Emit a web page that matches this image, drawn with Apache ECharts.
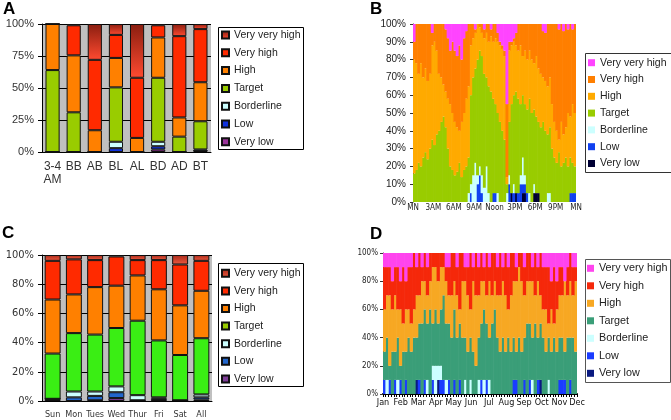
<!DOCTYPE html>
<html><head><meta charset="utf-8">
<script src="https://cdn.jsdelivr.net/npm/echarts@6/dist/echarts.min.js"></script>
<style>
html,body{margin:0;padding:0;background:#fff;}
.c{position:absolute;left:0;top:0;width:671px;height:420px;}
</style></head><body>
<div id="pa" class="c"></div><div id="pb" class="c"></div><div id="pc" class="c"></div><div id="pd" class="c"></div>
<script>
// stacking order (bottom -> top)
const levels = ['Very low','Low','Borderline','Target','High','Very high','Very very high'];

// ---------- Panel A ----------
const aCategories = ['3-4\nAM','BB','AB','BL','AL','BD','AD','BT'];
const aVeryLow      = [0,0,0,0,0,2,0,1];
const aLow          = [0,0,0,3,0,2.5,0,0];
const aBorderline   = [0,0,0,5,0,3.5,0,1];
const aTarget       = [64,31,0,42.5,0,50,12,22];
const aHigh         = [36,44.5,17,23,11,31.5,15,30.5];
const aVeryHigh     = [0,23.5,55,18,47,9.5,63.5,41.5];
const aVeryVeryHigh = [0,1,28,8.5,42,1,9.5,4];

// ---------- Panel B (20-minute slots over 24 h) ----------
const bXTicks = ['MN','3AM','6AM','9AM','Noon','3PM','6PM','9PM','MN'];
const bVeryLow = [0,0,0,0,0,0,0,0,0,0,0,0, 0,0,0,0,0,0,0,0,0,0,0,0, 0,0,0,0,0,0,0,0,0,0,0,0, 0,0,0,0,0,0,0,5,0,5,0,0, 5,5,0,0,0,5,5,5,0,0,0,0, 0,0,0,0,0,0,0,0,0,0,0,0];
const bLow = [0,0,0,0,0,0,0,0,0,0,0,0, 0,0,0,0,0,0,0,0,0,0,0,0, 0,5,0,0,10,15,5,0,0,0,0,5, 5,0,0,0,0,0,10,0,5,0,5,10, 5,5,5,0,0,0,0,0,0,0,0,0, 0,0,0,0,0,0,0,0,0,5,5,5];
const bBorderline = [0,0,0,0,0,0,0,0,0,0,0,0, 0,0,0,0,0,0,0,0,0,0,0,0, 5,5,15,22,5,5,10,8,20,5,0,0, 0,5,0,0,0,5,5,0,5,0,0,5, 15,5,0,5,0,5,0,0,0,0,0,5, 5,0,0,0,0,0,0,0,0,0,0,0];
const bTarget = [16,18,22,20,25,28,24,30,35,32,38,40, 45,48,42,30,20,18,15,17,22,14,18,20, 20,50,55,53,65,65,67,64,50,60,62,53, 50,45,45,40,35,5,30,50,50,57,53,40, 35,40,47,53,50,42,43,40,42,45,40,33, 37,30,25,22,28,20,22,25,20,20,17,15];
const bHigh = [64,60,50,58,45,47,44,42,53,58,47,32, 25,18,20,28,35,32,30,25,18,31,32,38, 40,28,22,20,20,13,13,20,25,25,31,32, 37,40,43,46,47,4,40,33,30,26,27,33, 22,30,28,27,30,26,34,30,30,25,28,27, 28,25,20,18,7,25,16,17,30,23,33,30];
const bVeryHigh = [10,22,28,22,30,25,32,28,7,10,15,28, 30,34,35,34,30,40,40,40,48,35,42,38, 35,12,8,2,0,2,5,5,5,10,4,10, 8,5,2,2,3,41,5,2,2,7,15,12, 18,15,20,15,20,22,18,25,28,26,27,35, 30,45,55,60,62,55,58,58,47,52,42,50];
const bVeryVeryHigh = [10,0,0,0,0,0,0,0,5,0,0,0, 0,0,3,8,15,10,15,18,12,20,8,4, 0,0,0,3,0,0,0,3,0,0,3,0, 0,5,10,12,15,45,10,10,8,5,0,0, 0,0,0,0,0,0,0,0,0,4,5,0, 0,0,0,0,3,0,4,0,3,0,3,0];

// ---------- Panel C ----------
const cCategories = ['Sun','Mon','Tues','Wed','Thur','Fri','Sat','All'];
const cVeryLow      = [1,0,0.5,2,0.5,0.5,0.5,1];
const cLow          = [0.5,2.5,3,4,0,1,0,1.5];
const cBorderline   = [0,4,3,4,3.5,1,0,2];
const cTarget       = [31,40,39,40,51,39,31,38.5];
const cHigh         = [37,26.5,32.5,29,31,35,34,32.5];
const cVeryHigh     = [26.5,24,18.5,20,10.5,20,28,20.5];
const cVeryVeryHigh = [4,3,3.5,1,3.5,3.5,6.5,4];

// ---------- Panel D (5-day slots over a year) ----------
const dXTicks = ['Jan','Feb','Mar','Apr','May','Jun','Jul','Aug','Sep','Oct','Nov','Dec'];
const dVeryLow = [0,0,0,0,0,0, 0,0,0,0,0,0, 10,0,0,0,0,0, 0,0,10,0,0,0, 0,0,0,0,0,0, 0,0,0,0,0,0, 0,0,0,0,0,0, 0,0,0,0,0,0, 0,0,0,0,0,0, 0,0,0,0,10,0, 0,0,0,0,0,0, 0,0,0,0,0,0];
const dLow = [10,0,10,0,10,0, 10,0,10,0,0,0, 0,10,0,10,0,0, 10,0,0,10,10,0, 10,0,10,0,10,0, 0,0,0,0,0,0, 10,0,10,0,0,0, 0,0,0,0,0,0, 10,10,0,0,10,0, 10,0,0,10,0,0, 0,0,0,0,0,10, 10,10,0,10,0,0];
const dBorderline = [0,10,0,0,0,10, 0,0,0,0,0,0, 0,0,0,0,10,0, 10,20,10,10,0,10, 0,0,0,0,0,0, 10,0,10,0,0,10, 0,10,0,10,0,0, 0,0,0,0,0,0, 0,0,0,0,0,0, 0,10,0,0,0,0, 0,10,0,0,0,0, 0,0,0,0,0,0];
const dTarget = [20,30,10,30,20,30, 10,30,20,40,30,40, 30,40,50,50,40,60, 30,40,30,40,60,40, 40,40,50,40,40,40, 30,30,30,30,20,30, 40,50,40,30,50,60, 40,30,40,30,40,30, 30,20,40,30,30,50, 40,30,50,30,40,40, 30,30,30,40,30,30, 30,20,40,30,40,30];
const dHigh = [30,30,50,30,40,20, 40,20,30,20,20,20, 30,20,30,20,20,20, 40,30,30,30,20,30, 20,30,20,30,10,40, 40,40,20,50,50,30, 30,20,20,40,20,20, 30,40,40,40,20,40, 40,50,50,50,30,30, 30,40,20,40,20,20, 30,10,30,10,30,30, 30,50,30,40,30,50];
const dVeryHigh = [30,20,20,20,20,30, 20,40,20,30,40,40, 20,30,10,20,20,20, 10,10,20,10,10,10, 20,30,20,20,40,20, 10,20,40,10,30,20, 20,10,30,10,30,20, 20,30,10,30,30,30, 20,10,10,20,20,20, 20,10,30,10,30,30, 30,40,20,40,20,20, 20,0,20,20,20,10];
const dVeryVeryHigh = [10,10,10,20,10,10, 20,10,20,10,10,0, 10,0,10,0,10,0, 0,0,0,0,0,10, 10,0,0,10,0,0, 10,10,0,10,0,10, 0,10,0,10,0,0, 10,0,10,0,10,0, 0,10,0,0,10,0, 0,10,0,10,0,10, 10,10,20,10,20,10, 10,20,10,0,10,10];

// ---------- styling ----------
const FONT = 'Arial, "Liberation Sans", sans-serif';
const NARROW = '"Liberation Sans Narrow", "DejaVu Sans Condensed", "Arial Narrow", sans-serif';
const legendOrder = levels.slice().reverse();
const grad = (c1, c2) => ({type:'linear', x:0, y:0, x2:0, y2:1, colorStops:[{offset:0,color:c1},{offset:1,color:c2}]});

const aColors = ['#993399','#1133dd','#ccffff','#99cc00','#ff8000','#ff2a00', grad('#8a1e10','#ff4a30')];
const bColors = ['#000033','#1040f0','#ccffff','#99cc00','#ffaa00','#ff7f00','#ff44ff'];
const cColors = ['#7f3f98','#2266cc','#ccffff','#3aee14','#ff8000','#ff2a00', grad('#a82a1a','#f05a40')];
const dColors = ['#0a1a80','#1a3cff','#ccffff','#3a9e78','#f7a823','#f5280a','#ff44ee'];

function series(arrays, colors, bordered, gap, width) {
  return levels.map((name, i) => {
    const s = {
      name: name, type: 'bar', stack: 's', data: arrays[i],
      itemStyle: bordered ? {color: colors[i], borderColor: '#111', borderWidth: 1}
                          : {color: colors[i], borderWidth: 0}
    };
    if (width) s.barWidth = width; else s.barCategoryGap = gap;
    return s;
  });
}

function legend(left, top, gap, size, override) {
  return {
    orient: 'vertical', left: left, top: top, padding: 0, itemGap: gap,
    itemWidth: 7, itemHeight: 7, icon: 'rect', selectedMode: false,
    textStyle: {fontFamily: FONT, fontSize: size, color: '#222', lineHeight: 14},
    data: legendOrder.map(n => (override && override[n]) ? {name: n, itemStyle: override[n]} : n)
  };
}

function box(x, y, w, h, c) {
  return {type: 'rect', silent: true, shape: {x: x, y: y, width: w, height: h}, style: {fill: 'none', stroke: c, lineWidth: 1}};
}

function title(t, x, y) {
  return {text: t, left: x, top: y, padding: 0, textStyle: {fontFamily: FONT, fontSize: 17, fontWeight: 'bold', color: '#000'}};
}

// ----- A -----
echarts.init(document.getElementById('pa')).setOption({
  animation: false,
  title: title('A', 3, 1),
  grid: {left: 42, top: 24, width: 169, height: 128, show: true, backgroundColor: '#c0c0c0', borderWidth: 0},
  xAxis: {type: 'category', data: aCategories,
    axisLine: {lineStyle: {color: '#000'}}, axisTick: {length: 5, lineStyle: {color: '#000'}},
    axisLabel: {interval: 0, color: '#333', fontFamily: FONT, fontSize: 12, margin: 8, lineHeight: 13}},
  yAxis: {type: 'value', min: 0, max: 100, interval: 25,
    axisLine: {show: true, lineStyle: {color: '#000'}}, axisTick: {show: true, length: 4, lineStyle: {color: '#000'}},
    axisLabel: {formatter: '{value}%', color: '#333', fontFamily: FONT, fontSize: 11, margin: 8},
    splitLine: {lineStyle: {color: '#000'}}},
  legend: legend(221, 28, 3.8, 10.5),
  graphic: [box(218.5, 27.5, 85, 122, '#000')],
  series: series([aVeryLow, aLow, aBorderline, aTarget, aHigh, aVeryHigh, aVeryVeryHigh], aColors, true, '33%')
});

// ----- B -----
echarts.init(document.getElementById('pb')).setOption({
  animation: false,
  title: title('B', 370, 1),
  grid: {left: 413, top: 24, width: 163, height: 178},
  xAxis: [
    {type: 'category', data: bTarget.map((v, i) => i), show: false},
    {type: 'value', min: 0, max: 24, interval: 3, position: 'bottom',
      axisLine: {show: false}, axisTick: {show: false}, splitLine: {show: false},
      axisLabel: {formatter: v => bXTicks[Math.round(v / 3)], color: '#222', fontFamily: NARROW, fontSize: 8, margin: 2}}
  ],
  yAxis: {type: 'value', min: 0, max: 100, interval: 10,
    axisLine: {show: true, lineStyle: {color: '#333'}}, axisTick: {show: true, length: 3, lineStyle: {color: '#333'}},
    axisLabel: {formatter: '{value}%', color: '#222', fontFamily: FONT, fontSize: 10, margin: 7},
    splitLine: {show: false}},
  legend: legend(588, 55.7, 2.8, 10.5),
  graphic: [box(585.5, 53.5, 90, 119, '#333')],
  series: series([bVeryLow, bLow, bBorderline, bTarget, bHigh, bVeryHigh, bVeryVeryHigh], bColors, false, '0%', 2.9)
});

// ----- C -----
echarts.init(document.getElementById('pc')).setOption({
  animation: false,
  title: title('C', 2, 225),
  grid: {left: 42, top: 255, width: 170, height: 146, show: true, backgroundColor: '#c0c0c0', borderWidth: 0},
  xAxis: {type: 'category', data: cCategories,
    axisLine: {lineStyle: {color: '#000'}}, axisTick: {length: 5, lineStyle: {color: '#000'}},
    axisLabel: {interval: 0, color: '#333', fontFamily: NARROW, fontSize: 9, margin: 9}},
  yAxis: {type: 'value', min: 0, max: 100, interval: 20,
    axisLine: {show: true, lineStyle: {color: '#000'}}, axisTick: {show: true, length: 4, lineStyle: {color: '#000'}},
    axisLabel: {formatter: '{value}%', color: '#333', fontFamily: NARROW, fontSize: 11, margin: 8},
    splitLine: {lineStyle: {color: '#000'}}},
  legend: legend(221, 266.3, 3.6, 10.5, {'Target': {color: '#99cc00'}}),
  graphic: [box(218.5, 263.5, 85, 123, '#000')],
  series: series([cVeryLow, cLow, cBorderline, cTarget, cHigh, cVeryHigh, cVeryVeryHigh], cColors, true, '25%')
});

// ----- D -----
echarts.init(document.getElementById('pd')).setOption({
  animation: false,
  title: title('D', 370, 226),
  grid: {left: 383, top: 253, width: 194, height: 141},
  xAxis: [
    {type: 'category', data: dTarget.map((v, i) => i),
      axisLine: {show: true, lineStyle: {color: '#000', width: 2}},
      axisTick: {show: true, interval: 0, length: 3, lineStyle: {color: '#000'}},
      axisLabel: {show: false}},
    {type: 'value', min: 0, max: 11, interval: 1, position: 'bottom',
      axisLine: {show: false}, axisTick: {show: false}, splitLine: {show: false},
      axisLabel: {formatter: v => dXTicks[Math.round(v)], color: '#111', fontFamily: NARROW, fontSize: 9, margin: 4}}
  ],
  yAxis: {type: 'value', min: 0, max: 100, interval: 20,
    axisLine: {show: true, lineStyle: {color: '#333'}}, axisTick: {show: true, length: 3, lineStyle: {color: '#333'}},
    axisLabel: {formatter: '{value}%', color: '#222', fontFamily: NARROW, fontSize: 8, margin: 5},
    splitLine: {show: false}},
  legend: legend(587, 261.3, 3.5, 10.8),
  graphic: [box(585.5, 259.5, 85, 123, '#555')],
  series: series([dVeryLow, dLow, dBorderline, dTarget, dHigh, dVeryHigh, dVeryVeryHigh], dColors, false, '0%', 3.3)
});
</script>
</body></html>
